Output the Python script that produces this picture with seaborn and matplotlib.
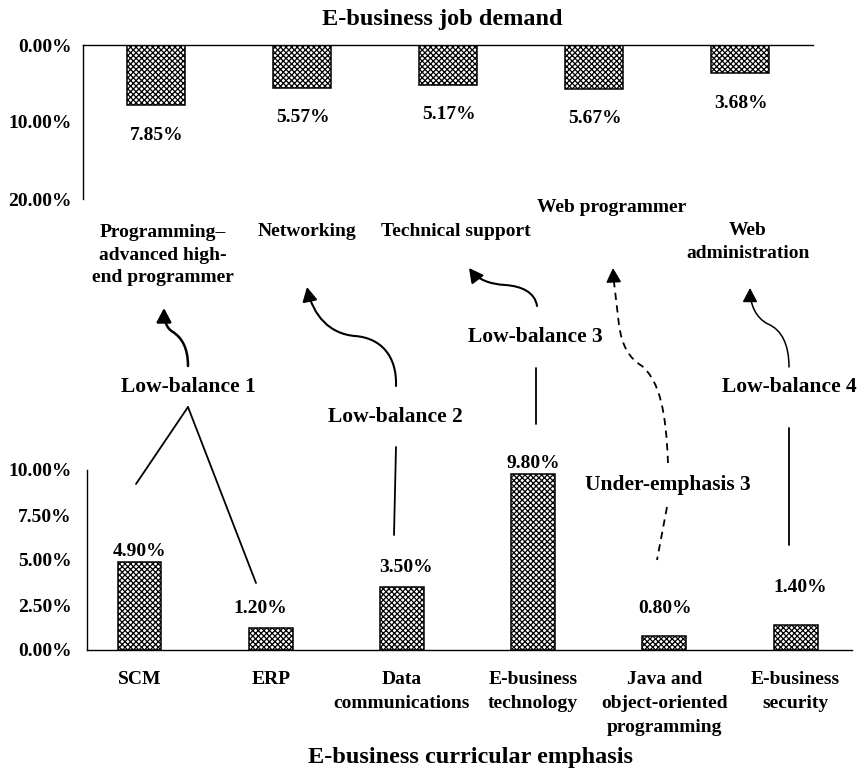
import matplotlib
matplotlib.use("Agg")
import matplotlib.pyplot as plt
import seaborn as sns
from matplotlib.patches import FancyArrowPatch, PathPatch
from matplotlib.path import Path
from matplotlib.lines import Line2D

# ---------------- data ----------------
job_categories = ["Programming–\nadvanced high-\nend programmer", "Networking",
                  "Technical support", "Web programmer", "Web\nadministration"]
job_demand = [7.85, 5.57, 5.17, 5.67, 3.68]

course_categories = ["SCM", "ERP", "Data\ncommunications", "E-business\ntechnology",
                     "Java and\nobject-oriented\nprogramming", "E-business\nsecurity"]
course_emphasis = [4.90, 1.20, 3.50, 9.80, 0.80, 1.40]

top_ticks = [0, 10, 20]
bottom_ticks = [0, 2.5, 5, 7.5, 10]

gap_labels = ["Low-balance 1", "Low-balance 2", "Low-balance 3", "Low-balance 4",
              "Under-emphasis 3"]
title_top = "E-business job demand"
title_bottom = "E-business curricular emphasis"

# ---------------- style ----------------
sns.set_style("white")
plt.rcParams["font.family"] = ["Liberation Serif", "DejaVu Serif"]
plt.rcParams["font.weight"] = "bold"
plt.rcParams["text.color"] = "black"
plt.rcParams["axes.labelcolor"] = "black"
plt.rcParams["xtick.color"] = "black"
plt.rcParams["ytick.color"] = "black"
plt.rcParams["axes.edgecolor"] = "black"
plt.rcParams["hatch.linewidth"] = 0.9
plt.rcParams["hatch.color"] = "black"

W, H = 860, 770
fig = plt.figure(figsize=(W / 100, H / 100), dpi=100)


def fp(x, y):
    return (x / W, 1 - y / H)


HATCH = "xxxxxx"
pct = lambda v, pos=None: f"{v:.2f}%"

# ---------------- top axes: job demand (inverted) ----------------
ax_top = fig.add_axes([83 / W, 1 - 199 / H, 730 / W, 154 / H])
sns.barplot(x=job_categories, y=job_demand, ax=ax_top, width=0.40, color="white",
            edgecolor="black", linewidth=1.1, saturation=1, errorbar=None)
for p in ax_top.patches:
    p.set_hatch(HATCH)
ax_top.set_xlim(-0.5, 4.5)
ax_top.set_ylim(20, 0)
ax_top.set_yticks(top_ticks)
ax_top.yaxis.set_major_formatter(pct)
ax_top.tick_params(axis="y", direction="in", length=4.3, width=1, pad=8, labelsize=14)
ax_top.tick_params(axis="x", length=0, labelbottom=False)
ax_top.set_xlabel("")
ax_top.set_ylabel("")
for s in ["bottom", "right"]:
    ax_top.spines[s].set_visible(False)
for s in ["top", "left"]:
    ax_top.spines[s].set_linewidth(1.0)

for i, v in enumerate(job_demand):
    ax_top.annotate(f"{v:.2f}%", xy=(i, v), xytext=(1, -30), textcoords="offset pixels",
                    ha="center", va="center", fontsize=14, fontweight="bold")

job_label_offsets = [(7, -56), (5, -33), (8, -33), (18, -9), (8, -43)]
for i, (name, (dx, dy)) in enumerate(zip(job_categories, job_label_offsets)):
    ax_top.annotate(name, xy=(i, 20), xytext=(dx, dy), textcoords="offset pixels",
                    ha="center", va="center", fontsize=14, fontweight="bold",
                    linespacing=1.45, annotation_clip=False)

# ---------------- bottom axes: curricular emphasis ----------------
ax_bot = fig.add_axes([87 / W, 1 - 650 / H, 765 / W, 180 / H])
sns.barplot(x=course_categories, y=course_emphasis, ax=ax_bot, width=0.335, color="white",
            edgecolor="black", linewidth=1.1, saturation=1, errorbar=None)
for p in ax_bot.patches:
    p.set_hatch(HATCH)
ax_bot.set_xlim(-0.40, 5.43)
ax_bot.set_ylim(0, 10)
ax_bot.set_yticks(bottom_ticks)
ax_bot.yaxis.set_major_formatter(pct)
ax_bot.tick_params(axis="y", direction="in", length=4.3, width=1, pad=11, labelsize=14)
ax_bot.tick_params(axis="x", length=0, pad=15, labelsize=14)
for t in ax_bot.get_xticklabels():
    t.set_linespacing(1.55)
    t.set_fontweight("bold")
ax_bot.set_xlabel("")
ax_bot.set_ylabel("")
for s in ["top", "right"]:
    ax_bot.spines[s].set_visible(False)
for s in ["bottom", "left"]:
    ax_bot.spines[s].set_linewidth(1.0)

course_label_offsets = [(0, 10), (-10, 20), (4, 19), (0, 10), (1, 27), (5, 37)]
for i, (v, (dx, dy)) in enumerate(zip(course_emphasis, course_label_offsets)):
    ax_bot.annotate(f"{v:.2f}%", xy=(i, v), xytext=(dx, dy), textcoords="offset pixels",
                    ha="center", va="center", fontsize=14, fontweight="bold",
                    annotation_clip=False)

# ---------------- titles ----------------
fig.text(*fp(442, 19), title_top, ha="center", va="center", fontsize=17.5, fontweight="bold")
fig.text(*fp(471, 757), title_bottom, ha="center", va="center", fontsize=17.5,
         fontweight="bold")

# ---------------- gap annotations ----------------
gap_positions = [(188, 387), (395, 417), (535, 337), (789, 387), (668, 485)]
for txt, (x, y) in zip(gap_labels, gap_positions):
    fig.text(*fp(x, y), txt, ha="center", va="center", fontsize=15.5, fontweight="bold")


def bez(points):
    verts = [fp(*points[0])]
    codes = [Path.MOVETO]
    for seg in points[1:]:
        if len(seg) == 3:
            verts += [fp(*seg[0]), fp(*seg[1]), fp(*seg[2])]
            codes += [Path.CURVE4] * 3
        else:
            verts.append(fp(*seg))
            codes.append(Path.LINETO)
    return Path(verts, codes)


ASTYLE = "-|>,head_length=0.85,head_width=0.45"


def curved_arrow(points, lw=1.4):
    fig.add_artist(FancyArrowPatch(path=bez(points), arrowstyle=ASTYLE, mutation_scale=10,
                                   lw=lw, color="black", transform=fig.transFigure,
                                   shrinkA=0, shrinkB=0))


def seg(x1, y1, x2, y2, lw=1.3, ls="-"):
    a, b = fp(x1, y1), fp(x2, y2)
    ln = Line2D([a[0], b[0]], [a[1], b[1]], transform=fig.transFigure, color="black",
                lw=lw, linestyle=ls)
    if ls != "-":
        ln.set_dashes((4, 3))
    fig.add_artist(ln)


# Low-balance 1
curved_arrow([(188, 366), ((188, 348), (182, 338), (173, 332)),
              ((166, 328), (164, 320), (164, 308))], lw=1.8)
seg(188, 407, 136, 484)
seg(188, 407, 256, 583)
# Low-balance 2
curved_arrow([(396, 386), ((397, 356), (381, 338), (355, 336)),
              ((330, 334), (313, 316), (307, 287))], lw=1.5)
seg(396, 447, 394, 535)
# Low-balance 3
curved_arrow([(537, 306), ((535, 292), (521, 286), (505, 285)),
              ((490, 284), (478, 280), (469, 268))], lw=1.5)
seg(536, 368, 536, 424)
# Low-balance 4
curved_arrow([(789, 367), ((789, 345), (782, 330), (768, 324)),
              ((756, 318), (750, 305), (750, 288))], lw=1.1)
seg(789, 428, 789, 545)
# Under-emphasis 3 (dashed)
dpath = bez([(668, 463), ((666, 412), (660, 382), (642, 366)),
             ((629, 358), (622, 346), (619, 325)), (614, 282)])
pp = PathPatch(dpath, fill=False, lw=1.3, edgecolor="black", transform=fig.transFigure)
pp.set_linestyle((0, (4, 3)))
fig.add_artist(pp)
fig.add_artist(FancyArrowPatch(posA=fp(613.6, 280), posB=fp(613, 268), arrowstyle=ASTYLE,
                               mutation_scale=10, lw=1.3, color="black",
                               transform=fig.transFigure, shrinkA=0, shrinkB=0))
seg(667, 507, 657, 560, ls="--")

fig.savefig("out.png", dpi=100)
